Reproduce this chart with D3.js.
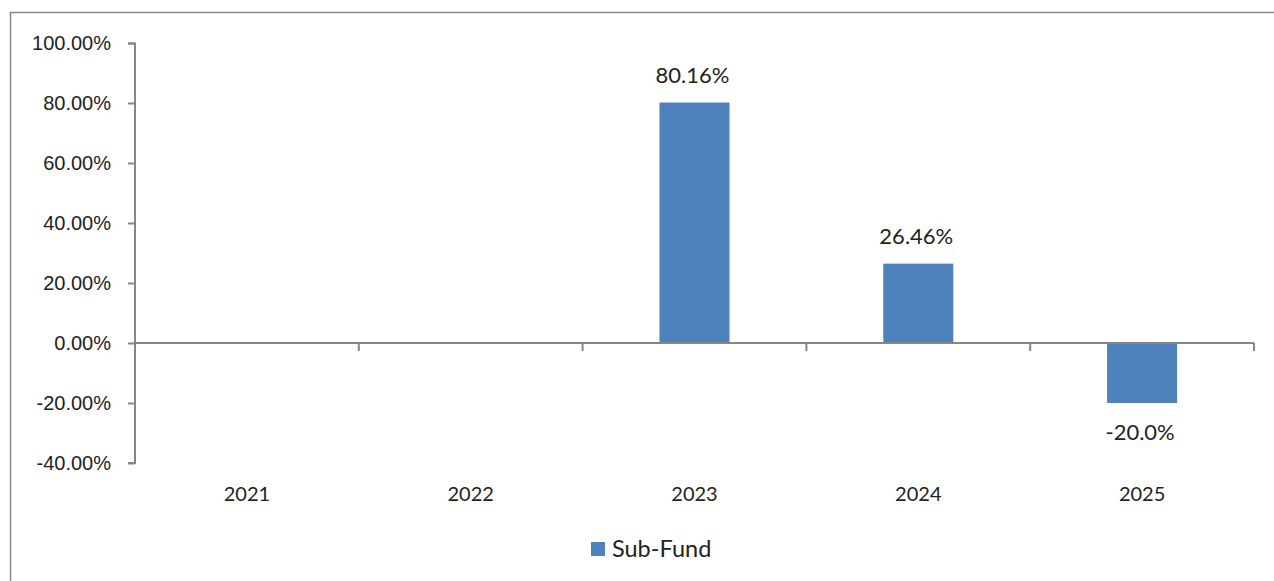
<!DOCTYPE html>
<html>
<head>
<meta charset="utf-8">
<script src="https://cdn.jsdelivr.net/npm/d3@7/dist/d3.min.js"></script>
<style>
  body { margin: 0; background: #fff; }
  svg { display: block; }
</style>
</head>
<body>
<svg></svg>
<script>
var years = ["2021", "2022", "2023", "2024", "2025"];
var subFund = [null, null, 80.16, 26.46, -20.0];
var valueLabels = ["", "", "80.16%", "26.46%", "-20.0%"];
var yTicks = [-40, -20, 0, 20, 40, 60, 80, 100];
var seriesName = "Sub-Fund";

var data = years.map((y, i) => ({ year: y, value: subFund[i], label: valueLabels[i] }));

const svgWidth = 1274, svgHeight = 581;
var margin = { top: 43, right: 20, bottom: 118, left: 135 };
var width = 1254 - margin.left;
var height = 463 - margin.top;
var fontSize = 20;

var svg = d3.select("svg")
    .attr("width", svgWidth)
    .attr("height", svgHeight)
    .style("font-family", "Lato, 'Open Sans', sans-serif");

// chart frame
svg.append("path")
    .attr("d", "M10.5,581 V12.5 H1274")
    .attr("fill", "none")
    .attr("stroke", "#888")
    .attr("stroke-width", 1.5);

var g = svg.append("g")
    .attr("transform", "translate(" + margin.left + "," + margin.top + ")");

var x = d3.scaleBand()
    .domain(years)
    .range([0, width]);

var y = d3.scaleLinear()
    .domain([-40, 100])
    .range([height, 0]);

var barW = x.bandwidth() * 0.313;
var axisColor = "#878787";

// y axis
var yAxis = d3.axisLeft(y)
    .tickValues(yTicks)
    .tickSize(7)
    .tickPadding(17)
    .tickFormat(d => d.toFixed(2) + "%");

var yg = g.append("g").call(yAxis);
yg.select(".domain").attr("stroke", axisColor).attr("stroke-width", 2).attr("d", "M-7,0.5H0V" + height + "H-7");
yg.selectAll(".tick line").attr("stroke", axisColor).attr("stroke-width", 2);
yg.selectAll(".tick text").attr("font-size", fontSize).attr("fill", "#222");

// bars
g.selectAll("rect.bar")
    .data(data.filter(d => d.value != null))
    .enter()
    .append("rect")
    .attr("class", "bar")
    .attr("x", d => x(d.year) + (x.bandwidth() - barW) / 2)
    .attr("y", d => y(Math.max(0, d.value)))
    .attr("width", barW)
    .attr("height", d => Math.abs(y(d.value) - y(0)))
    .attr("fill", "#4F81BD");

// x axis at zero
var xg = g.append("g").attr("transform", "translate(0," + y(0) + ")");
xg.append("line")
    .attr("x1", 0).attr("x2", width)
    .attr("stroke", axisColor).attr("stroke-width", 2);
xg.selectAll("line.tick")
    .data(years)
    .enter()
    .append("line")
    .attr("class", "tick")
    .attr("x1", d => x(d) + x.bandwidth())
    .attr("x2", d => x(d) + x.bandwidth())
    .attr("y1", 0).attr("y2", 8)
    .attr("stroke", axisColor).attr("stroke-width", 2);

// category labels
g.selectAll("text.cat")
    .data(years)
    .enter()
    .append("text")
    .attr("class", "cat")
    .attr("x", d => x(d) + x.bandwidth() / 2)
    .attr("y", height + 31)
    .attr("dy", "0.35em")
    .attr("text-anchor", "middle")
    .attr("font-size", fontSize)
    .attr("fill", "#222")
    .text(d => d);

// value labels
g.selectAll("text.val")
    .data(data.filter(d => d.value != null))
    .enter()
    .append("text")
    .attr("class", "val")
    .attr("x", d => x(d.year) + x.bandwidth() / 2 - 2)
    .attr("y", d => d.value >= 0 ? y(d.value) - 27 : y(d.value) + 29)
    .attr("dy", "0.35em")
    .attr("text-anchor", "middle")
    .attr("font-size", 22)
    .attr("fill", "#222")
    .text(d => d.label);

// legend
var lg = svg.append("g").attr("transform", "translate(591,549)");
lg.append("rect")
    .attr("x", 0).attr("y", -7)
    .attr("width", 14).attr("height", 14)
    .attr("fill", "#4F81BD");
lg.append("text")
    .attr("x", 21).attr("y", 0)
    .attr("dy", "0.35em")
    .attr("font-size", 23.5)
    .attr("fill", "#222")
    .text(seriesName);
</script>
</body>
</html>
